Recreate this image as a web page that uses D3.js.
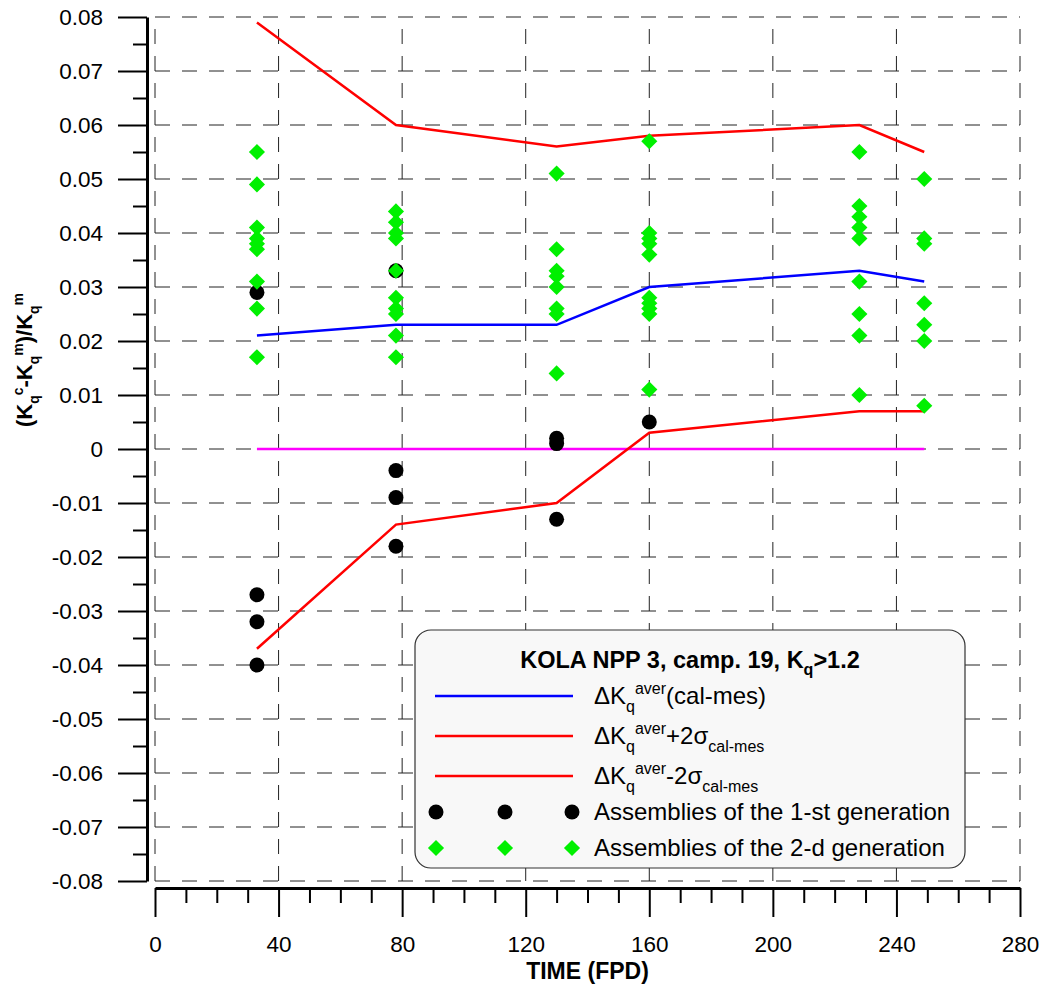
<!DOCTYPE html>
<html>
<head>
<meta charset="utf-8">
<script src="https://cdn.jsdelivr.net/npm/d3@7/dist/d3.min.js"></script>
<style>
  body { margin: 0; background: #fff; }
  svg { font-family: Arial, "Liberation Sans", sans-serif; }
</style>
</head>
<body>
<svg id="chart"></svg>
<script>
// ---- data ----
const days = [33, 78, 130, 160, 228, 249];
const meanDev  = [0.021, 0.023, 0.023, 0.030, 0.033, 0.031];
const upper2s  = [0.079, 0.060, 0.056, 0.058, 0.060, 0.055];
const lower2s  = [-0.037, -0.014, -0.010, 0.003, 0.007, 0.007];
const zeroDev  = [0, 0, 0, 0, 0, 0];

// assemblies of the 1-st generation [day, value]
const gen1 = [
  [33, 0.029], [33, -0.027], [33, -0.032], [33, -0.040],
  [78, 0.033], [78, -0.004], [78, -0.009], [78, -0.018],
  [130, 0.002], [130, 0.001], [130, -0.013],
  [160, 0.005]
];
// assemblies of the 2-d generation [day, value]
const gen2 = [
  [33, 0.055], [33, 0.049], [33, 0.041], [33, 0.039], [33, 0.038], [33, 0.037], [33, 0.031], [33, 0.026], [33, 0.017],
  [78, 0.044], [78, 0.042], [78, 0.040], [78, 0.039], [78, 0.033], [78, 0.028], [78, 0.026], [78, 0.025], [78, 0.021], [78, 0.017],
  [130, 0.051], [130, 0.037], [130, 0.033], [130, 0.032], [130, 0.030], [130, 0.026], [130, 0.025], [130, 0.014],
  [160, 0.057], [160, 0.040], [160, 0.039], [160, 0.038], [160, 0.036], [160, 0.028], [160, 0.027], [160, 0.026], [160, 0.025], [160, 0.011],
  [228, 0.055], [228, 0.045], [228, 0.043], [228, 0.041], [228, 0.039], [228, 0.031], [228, 0.025], [228, 0.021], [228, 0.010],
  [249, 0.050], [249, 0.039], [249, 0.038], [249, 0.027], [249, 0.023], [249, 0.020], [249, 0.008]
];

const xTicks = [0, 40, 80, 120, 160, 200, 240, 280];
const yTicks = [0.08, 0.07, 0.06, 0.05, 0.04, 0.03, 0.02, 0.01, 0, -0.01, -0.02, -0.03, -0.04, -0.05, -0.06, -0.07, -0.08];

// ---- layout ----
const width = 1043, height = 985;
const plot = { left: 155, right: 1020, top: 17, bottom: 881 };
const yAxisX = 147, xAxisY = 888;

const svg = d3.select("#chart")
  .attr("width", width)
  .attr("height", height)
  .attr("viewBox", [0, 0, width, height]);

const x = d3.scaleLinear([0, 280], [plot.left, plot.right]);
const y = d3.scaleLinear([-0.08, 0.08], [plot.bottom, plot.top]);

// text with sub/superscripts: parts are [text, "n" | "sub" | "sup"]
function rich(sel, parts, fs, sfs) {
  let cur = 0;
  parts.forEach(([t, kind]) => {
    const target = kind === "sub" ? fs * 0.33 : kind === "sup" ? -fs * 0.42 : 0;
    const ts = sel.append("tspan").text(t).attr("dy", target - cur);
    if (kind !== "n") ts.attr("font-size", sfs);
    cur = target;
  });
}

// ---- grid ----
const grid = svg.append("g")
  .attr("stroke", "#222")
  .attr("stroke-width", 1)
  .attr("stroke-dasharray", "15,12");

grid.selectAll("line.h").data(yTicks).join("line")
  .attr("x1", plot.left).attr("x2", plot.right)
  .attr("y1", d => y(d)).attr("y2", d => y(d));

grid.selectAll("line.v").data(xTicks).join("line")
  .attr("y1", plot.bottom).attr("y2", plot.top)
  .attr("x1", d => x(d)).attr("x2", d => x(d));

// ---- axes ----
const yMinor = d3.range(-0.075, 0.08, 0.01).map(v => +v.toFixed(3));
const xMinor = d3.range(0, 281, 10).filter(v => v % 40 !== 0);

svg.append("g").attr("transform", `translate(${yAxisX},0)`)
  .call(d3.axisLeft(y).tickValues(yTicks).tickSize(29).tickSizeOuter(0).tickPadding(15)
    .tickFormat(d => d === 0 ? "0" : d.toFixed(2)));
svg.append("g").attr("transform", `translate(${yAxisX},0)`)
  .call(d3.axisLeft(y).tickValues(yMinor).tickSize(14).tickFormat(""))
  .call(g => g.select(".domain").remove());

svg.append("g").attr("transform", `translate(0,${xAxisY})`)
  .call(d3.axisBottom(x).tickValues(xTicks).tickSize(29).tickSizeOuter(0).tickPadding(19));
svg.append("g").attr("transform", `translate(0,${xAxisY})`)
  .call(d3.axisBottom(x).tickValues(xMinor).tickSize(15).tickFormat(""))
  .call(g => g.select(".domain").remove());

svg.selectAll(".domain").attr("stroke", "#000").attr("stroke-width", 3);
svg.selectAll(".tick line").attr("stroke", "#000").attr("stroke-width", 2);
svg.selectAll(".tick text")
  .attr("font-family", "Arial, 'Liberation Sans', sans-serif")
  .attr("font-size", 22.5).attr("fill", "#000");

// axis titles
svg.append("text")
  .attr("x", x(140)).attr("y", 979)
  .attr("text-anchor", "middle")
  .attr("font-size", 23).attr("font-weight", "bold")
  .text("TIME (FPD)");

const yt = svg.append("text")
  .attr("transform", "translate(32,360) rotate(-90)")
  .attr("text-anchor", "middle")
  .attr("font-size", 22).attr("font-weight", "bold");
rich(yt, [["(K", "n"], ["q", "sub"], ["c", "sup"], ["-K", "n"], ["q", "sub"], ["m", "sup"],
          [")/K", "n"], ["q", "sub"], ["m", "sup"]], 22, 14);

// ---- series ----
const line = d3.line().x(d => x(d[0])).y(d => y(d[1]));
const series = [
  { values: zeroDev, color: "#ff00ff" },
  { values: upper2s, color: "#ff0000" },
  { values: lower2s, color: "#ff0000" },
  { values: meanDev, color: "#0000ff" }
];
svg.append("g").selectAll("path").data(series).join("path")
  .attr("fill", "none")
  .attr("stroke", d => d.color)
  .attr("stroke-width", 2.5)
  .attr("d", d => line(days.map((t, i) => [t, d.values[i]])));

const green = "#00f000";
const diamond = d3.symbol().type(d3.symbolSquare).size(130);

svg.append("g").selectAll("circle").data(gen1).join("circle")
  .attr("cx", d => x(d[0])).attr("cy", d => y(d[1]))
  .attr("r", 7.5).attr("fill", "#000");

svg.append("g").selectAll("path").data(gen2).join("path")
  .attr("d", diamond)
  .attr("transform", d => `translate(${x(d[0])},${y(d[1])}) rotate(45)`)
  .attr("fill", green);

// ---- legend ----
const lg = svg.append("g");
lg.append("rect")
  .attr("x", 415).attr("y", 630).attr("width", 550).attr("height", 238)
  .attr("rx", 16).attr("ry", 16)
  .attr("fill", "#f8f8f8").attr("stroke", "#333").attr("stroke-width", 1.2);

const lt = lg.append("text")
  .attr("x", 690).attr("y", 668)
  .attr("text-anchor", "middle")
  .attr("font-size", 23.5).attr("font-weight", "bold");
rich(lt, [["KOLA NPP 3, camp. 19, K", "n"], ["q", "sub"], [">1.2", "n"]], 22, 16);

const lineRows = [
  { color: "#0000ff", yy: 696, parts: [["\u0394K", "n"], ["q", "sub"], ["aver", "sup"], ["(cal-mes)", "n"]] },
  { color: "#ff0000", yy: 736, parts: [["\u0394K", "n"], ["q", "sub"], ["aver", "sup"], ["+2\u03c3", "n"], ["cal-mes", "sub"]] },
  { color: "#ff0000", yy: 776, parts: [["\u0394K", "n"], ["q", "sub"], ["aver", "sup"], ["-2\u03c3", "n"], ["cal-mes", "sub"]] }
];
const lx = [435, 573];
lineRows.forEach(r => {
  lg.append("line").attr("x1", lx[0]).attr("x2", lx[1]).attr("y1", r.yy).attr("y2", r.yy)
    .attr("stroke", r.color).attr("stroke-width", 2.5);
  const t = lg.append("text").attr("x", 594).attr("y", r.yy + 8).attr("font-size", 24);
  rich(t, r.parts, 24, 16);
});

const mx = [436, 505, 572];
lg.selectAll("circle").data(mx).join("circle")
  .attr("cx", d => d).attr("cy", 812).attr("r", 7.5).attr("fill", "#000");
lg.append("text").attr("x", 594).attr("y", 820).attr("font-size", 24)
  .text("Assemblies of the 1-st generation");

lg.selectAll("path.m").data(mx).join("path")
  .attr("d", diamond)
  .attr("transform", d => `translate(${d},848) rotate(45)`)
  .attr("fill", green);
lg.append("text").attr("x", 594).attr("y", 856).attr("font-size", 24)
  .text("Assemblies of the 2-d generation");
</script>
</body>
</html>
